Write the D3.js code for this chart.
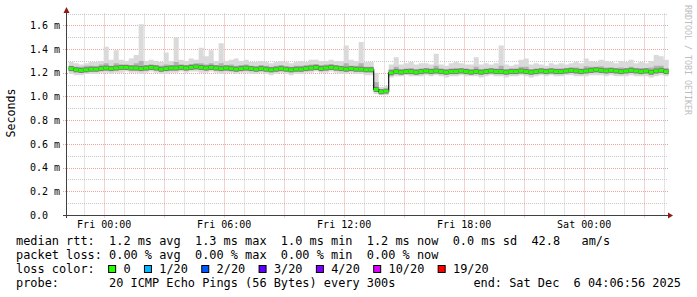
<!DOCTYPE html>
<html>
<head>
<meta charset="utf-8">
<script src="https://cdn.jsdelivr.net/npm/d3@7"></script>
<style>
body { margin: 0; background: #fff; }
text { font-family: "DejaVu Sans Mono", monospace; fill: #000; white-space: pre; }
</style>
</head>
<body>
<script>
// median rtt / smoke, one sample every 15 min from Thu 22:15 (values in ms)
var median = [
  1.235,1.225,1.22,1.225,1.23,1.23,1.235,1.24,1.235,1.24,
  1.245,1.245,1.24,1.24,1.235,1.24,1.245,1.24,1.23,1.235,
  1.24,1.24,1.245,1.24,1.245,1.25,1.245,1.24,1.245,1.24,
  1.235,1.24,1.235,1.23,1.235,1.24,1.235,1.23,1.235,1.23,
  1.225,1.23,1.235,1.23,1.225,1.23,1.23,1.235,1.24,1.245,
  1.235,1.24,1.245,1.24,1.235,1.23,1.235,1.23,1.23,1.225,
  1.225,1.06,1.04,1.045,1.20,1.21,1.205,1.21,1.21,1.205,
  1.21,1.215,1.21,1.215,1.21,1.205,1.21,1.21,1.215,1.21,
  1.205,1.21,1.205,1.21,1.215,1.21,1.21,1.205,1.21,1.21,
  1.215,1.21,1.205,1.21,1.215,1.21,1.215,1.21,1.21,1.215,
  1.22,1.215,1.21,1.215,1.22,1.225,1.22,1.215,1.22,1.215,
  1.21,1.215,1.22,1.215,1.21,1.215,1.205,1.215,1.22,1.21
];
var smokeHi = [
  1.29,1.28,1.27,1.28,1.29,1.29,1.30,1.42,1.31,1.39,
  1.31,1.30,1.32,1.35,1.61,1.30,1.31,1.30,1.29,1.37,
  1.30,1.50,1.31,1.30,1.32,1.31,1.41,1.34,1.39,1.30,
  1.45,1.30,1.31,1.32,1.30,1.31,1.29,1.29,1.30,1.29,
  1.28,1.29,1.30,1.29,1.28,1.29,1.30,1.29,1.31,1.31,
  1.30,1.30,1.31,1.30,1.30,1.43,1.31,1.30,1.46,1.29,
  1.29,1.20,1.08,1.09,1.27,1.33,1.27,1.28,1.29,1.27,
  1.28,1.28,1.27,1.36,1.27,1.26,1.28,1.29,1.28,1.27,
  1.27,1.33,1.27,1.28,1.27,1.28,1.43,1.27,1.26,1.27,
  1.31,1.32,1.27,1.28,1.27,1.26,1.28,1.27,1.28,1.27,
  1.28,1.29,1.28,1.32,1.30,1.29,1.31,1.30,1.29,1.28,
  1.30,1.29,1.31,1.28,1.29,1.28,1.30,1.35,1.34,1.31
];
var smokeLo = [
  1.19,1.18,1.18,1.19,1.19,1.19,1.20,1.20,1.19,1.20,
  1.20,1.21,1.20,1.20,1.19,1.20,1.21,1.20,1.19,1.19,
  1.20,1.20,1.21,1.20,1.21,1.21,1.20,1.20,1.21,1.20,
  1.19,1.20,1.20,1.19,1.20,1.20,1.19,1.19,1.20,1.19,
  1.18,1.19,1.20,1.19,1.18,1.19,1.19,1.20,1.20,1.21,
  1.20,1.20,1.21,1.20,1.19,1.19,1.20,1.19,1.19,1.18,
  1.18,1.02,1.01,1.01,1.16,1.17,1.17,1.18,1.17,1.17,
  1.17,1.18,1.17,1.18,1.17,1.16,1.17,1.17,1.18,1.17,
  1.17,1.17,1.16,1.17,1.18,1.17,1.17,1.16,1.17,1.17,
  1.18,1.17,1.16,1.17,1.18,1.17,1.18,1.17,1.17,1.18,
  1.18,1.17,1.17,1.17,1.18,1.18,1.18,1.17,1.18,1.17,
  1.17,1.17,1.18,1.17,1.17,1.17,1.16,1.17,1.18,1.17
];
var midHi = [
  1.26,1.25,1.25,1.26,1.26,1.255,1.27,1.28,1.26,1.28,
  1.27,1.27,1.265,1.28,1.30,1.265,1.27,1.265,1.26,1.27,
  1.265,1.29,1.27,1.265,1.275,1.28,1.28,1.27,1.28,1.265,
  1.28,1.265,1.27,1.26,1.265,1.27,1.26,1.255,1.265,1.26,
  1.25,1.26,1.265,1.255,1.25,1.26,1.26,1.265,1.27,1.275,
  1.265,1.27,1.275,1.265,1.26,1.28,1.26,1.26,1.28,1.25,
  1.25,1.12,1.06,1.065,1.23,1.25,1.23,1.235,1.24,1.23,
  1.235,1.24,1.235,1.26,1.235,1.23,1.235,1.24,1.24,1.235,
  1.23,1.25,1.23,1.235,1.24,1.235,1.26,1.23,1.235,1.235,
  1.25,1.25,1.23,1.235,1.24,1.235,1.24,1.235,1.235,1.24,
  1.245,1.245,1.235,1.255,1.25,1.25,1.255,1.245,1.245,1.24,
  1.245,1.24,1.25,1.24,1.24,1.24,1.245,1.26,1.26,1.24
];
var midLo = [
  1.215,1.205,1.20,1.205,1.21,1.21,1.215,1.22,1.215,1.22,
  1.225,1.225,1.22,1.22,1.215,1.22,1.225,1.22,1.21,1.215,
  1.22,1.22,1.225,1.22,1.225,1.23,1.225,1.22,1.225,1.22,
  1.215,1.22,1.215,1.21,1.215,1.22,1.215,1.21,1.215,1.21,
  1.205,1.21,1.215,1.21,1.205,1.21,1.21,1.215,1.22,1.225,
  1.215,1.22,1.225,1.22,1.215,1.21,1.215,1.21,1.21,1.205,
  1.205,1.04,1.025,1.03,1.18,1.19,1.185,1.19,1.19,1.185,
  1.19,1.195,1.19,1.195,1.19,1.185,1.19,1.19,1.195,1.19,
  1.185,1.19,1.185,1.19,1.195,1.19,1.19,1.185,1.19,1.19,
  1.195,1.19,1.185,1.19,1.195,1.19,1.195,1.19,1.19,1.195,
  1.20,1.195,1.19,1.195,1.20,1.205,1.20,1.195,1.20,1.195,
  1.19,1.195,1.20,1.195,1.19,1.195,1.185,1.195,1.20,1.19
];

var yTicks = [0, 0.2, 0.4, 0.6, 0.8, 1.0, 1.2, 1.4, 1.6];
var yTickLabels = ["0.0  ", "0.2 m", "0.4 m", "0.6 m", "0.8 m", "1.0 m", "1.2 m", "1.4 m", "1.6 m"];
var xTickLabels = ["Fri 00:00", "Fri 06:00", "Fri 12:00", "Fri 18:00", "Sat 00:00"];

var legendRtt = "median rtt:  1.2 ms avg  1.3 ms max  1.0 ms min  1.2 ms now  0.0 ms sd  42.8   am/s";
var legendLoss = "packet loss: 0.00 % avg  0.00 % max  0.00 % min  0.00 % now";
var lossColorLabels = ["0", "1/20", "2/20", "3/20", "4/20", "10/20", "19/20"];
var lossColors = ["#26ff00", "#00b8ff", "#0059ff", "#5e00ff", "#7e00ff", "#dd00ff", "#ff0000"];
var probeText = "probe:       20 ICMP Echo Pings (56 Bytes) every 300s";
var endText = "end: Sat Dec  6 04:06:56 2025";

var endTime = new Date(Date.UTC(2025, 11, 6, 4, 6, 56));
var startTime = d3.utcHour.offset(endTime, -30);
var sampleStart = new Date(Date.UTC(2025, 11, 4, 22, 15));
var stepMin = 15;

var width = 697, height = 297;
var plotLeft = 66, plotRight = 666, plotTop = 13.5, plotBottom = 215;

var svg = d3.select("body").append("svg")
    .attr("width", width)
    .attr("height", height);

svg.append("rect").attr("width", width).attr("height", height).attr("fill", "#fff");

var x = d3.scaleUtc().domain([startTime, endTime]).range([plotLeft, plotRight]);
var y = d3.scaleLinear().domain([0, 1.7]).range([plotBottom, plotTop]);

var samples = median.map(function(m, i) {
    return {t: d3.utcMinute.offset(sampleStart, i * stepMin), med: m,
            lo: smokeLo[i], hi: smokeHi[i], mlo: midLo[i], mhi: midHi[i]};
});
var lastS = samples[samples.length - 1];
var pts = samples.concat([Object.assign({}, lastS, {t: d3.utcMinute.offset(lastS.t, stepMin)})]);

//grid
var grid = svg.append("g");
var minorY = d3.range(1, 18, 2).map(function(v) { return v / 10; });
grid.selectAll(".hminor").data(minorY).enter().append("line")
    .attr("x1", plotLeft).attr("x2", plotRight + 1)
    .attr("y1", function(d) { return Math.round(y(d)) + 0.5; })
    .attr("y2", function(d) { return Math.round(y(d)) + 0.5; })
    .attr("stroke", "#c8c8c8").attr("stroke-dasharray", "1,1");
grid.selectAll(".hmajor").data(yTicks.slice(1)).enter().append("line")
    .attr("x1", plotLeft - 3).attr("x2", plotRight + 3)
    .attr("y1", function(d) { return Math.round(y(d)) + 0.5; })
    .attr("y2", function(d) { return Math.round(y(d)) + 0.5; })
    .attr("stroke", "#eba5a5").attr("stroke-dasharray", "1,1");

var hours = d3.utcHour.range(d3.utcHour.ceil(startTime), endTime);
grid.selectAll(".v").data(hours).enter().append("line")
    .attr("x1", function(d) { return Math.round(x(d)) + 0.5; })
    .attr("x2", function(d) { return Math.round(x(d)) + 0.5; })
    .attr("y1", plotTop)
    .attr("y2", function(d) { return d.getUTCHours() % 3 == 0 ? plotBottom + 3 : plotBottom; })
    .attr("stroke", function(d) { return d.getUTCHours() % 3 == 0 ? "#eba5a5" : "#c8c8c8"; })
    .attr("stroke-dasharray", "1,1");

//smoke
var plot = svg.append("g");
plot.append("path").datum(pts)
    .attr("fill", "#dadada")
    .attr("d", d3.area().curve(d3.curveStepAfter)
        .x(function(d) { return x(d.t); })
        .y0(function(d) { return y(d.lo); })
        .y1(function(d) { return y(d.hi); }));
plot.append("path").datum(pts)
    .attr("fill", "#b2b2b2")
    .attr("d", d3.area().curve(d3.curveStepAfter)
        .x(function(d) { return x(d.t); })
        .y0(function(d) { return y(d.mlo); })
        .y1(function(d) { return y(d.mhi); }));
plot.selectAll(".dark").data(samples).enter().append("rect")
    .attr("x", function(d) { return x(d.t); })
    .attr("width", function(d) { return x(d3.utcMinute.offset(d.t, stepMin)) - x(d.t); })
    .attr("y", function(d) { return y(d.med) - 2.5; })
    .attr("height", 5)
    .attr("fill", "#7a7a7a");

//median
plot.append("path").datum(pts)
    .attr("fill", "none").attr("stroke", "#111").attr("stroke-width", 1.2)
    .attr("d", d3.line().curve(d3.curveStepAfter)
        .x(function(d) { return x(d.t); })
        .y(function(d) { return y(d.med); }));
plot.selectAll(".med").data(samples).enter().append("rect")
    .attr("x", function(d) { return x(d.t); })
    .attr("width", function(d) { return x(d3.utcMinute.offset(d.t, stepMin)) - x(d.t); })
    .attr("y", function(d) { return y(d.med) - 1.5; })
    .attr("height", 3)
    .attr("fill", lossColors[0]);

//axes
var xTicks = d3.utcHour.every(6).range(startTime, endTime);
svg.append("g").attr("transform", `translate(0, ${plotBottom})`)
    .call(d3.axisBottom(x).tickValues(xTicks).tickSize(0).tickPadding(5.4)
        .tickFormat(function(d, i) { return xTickLabels[i]; }))
    .call(function(g) { g.select(".domain").remove(); })
    .selectAll("text").attr("font-size", 10).attr("font-family", "DejaVu Sans Mono");

svg.append("g").attr("transform", `translate(${plotLeft}, 0)`)
    .call(d3.axisLeft(y).tickValues(yTicks).tickSize(0).tickPadding(6)
        .tickFormat(function(d, i) { return yTickLabels[i]; }))
    .call(function(g) { g.select(".domain").remove(); })
    .selectAll("text").attr("font-size", 10).attr("font-family", "DejaVu Sans Mono");

svg.append("line").attr("x1", plotLeft + 0.5).attr("x2", plotLeft + 0.5)
    .attr("y1", plotBottom + 3).attr("y2", 12).attr("stroke", "#404040");
svg.append("line").attr("x1", plotLeft - 3).attr("x2", plotRight + 2)
    .attr("y1", plotBottom + 0.5).attr("y2", plotBottom + 0.5).attr("stroke", "#404040");
svg.append("path").attr("d", `M${plotLeft - 2.5},13 L${plotLeft + 3.5},13 L${plotLeft + 0.5},7 Z`).attr("fill", "#8f1a1a");
svg.append("path").attr("d", `M${plotRight + 2},${plotBottom - 2.5} L${plotRight + 2},${plotBottom + 3.5} L${plotRight + 7},${plotBottom + 0.5} Z`).attr("fill", "#8f1a1a");

// y title + watermark
svg.append("text").attr("transform", "translate(15,113) rotate(-90)")
    .attr("text-anchor", "middle").attr("font-size", 11.6).text("Seconds");
svg.append("text").attr("transform", "translate(684.5,5) rotate(90)")
    .attr("font-size", 8.3).style("fill", "#bdbdbd").text("RRDTOOL / TOBI OETIKER");

//legend
var fs = 11.9, cw = fs * 0.602;
var leg = svg.append("g").attr("font-size", fs);
leg.append("text").attr("x", 16).attr("y", 245).text(legendRtt);
leg.append("text").attr("x", 16).attr("y", 259).text(legendLoss);
leg.append("text").attr("x", 16).attr("y", 273).text("loss color:");
var col = 13;
lossColorLabels.forEach(function(s, i) {
    var bx = 16 + col * cw;
    leg.append("rect").attr("x", bx - 0.5).attr("y", 265.5).attr("width", 7).attr("height", 7)
        .attr("fill", lossColors[i]).attr("stroke", "#000");
    leg.append("text").attr("x", bx + 2 * cw).attr("y", 273).text(s);
    col = col + 2 + s.length + 2;
});
leg.append("text").attr("x", 16).attr("y", 287).text(probeText);
leg.append("text").attr("x", 681).attr("y", 287).attr("text-anchor", "end").text(endText);
</script>
</body>
</html>
